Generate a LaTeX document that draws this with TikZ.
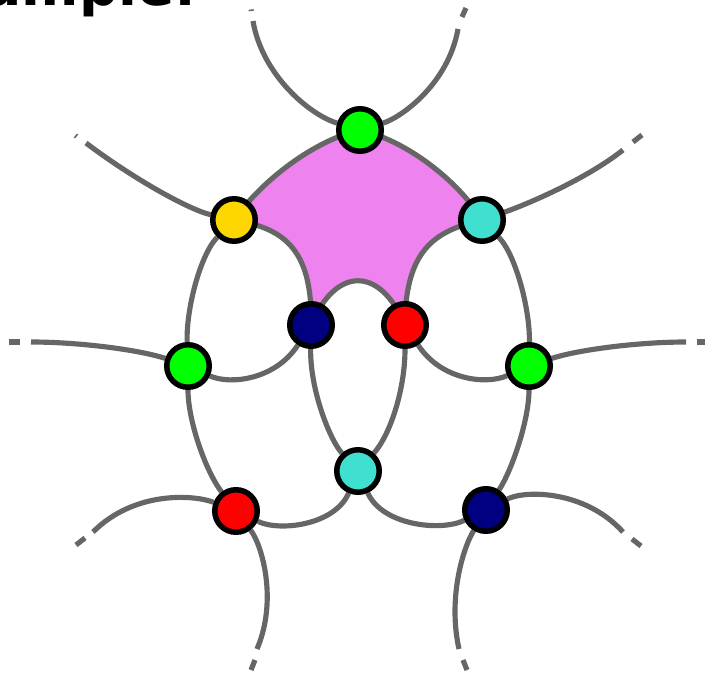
\documentclass[tikz,border=0pt]{standalone}
\usepackage{fontspec}
\setsansfont{DejaVu Sans}
\pgfdeclarelayer{background}
\pgfsetlayers{background,main}
\definecolor{edgecol}{RGB}{102,102,102}
\definecolor{pinkfill}{RGB}{238,130,238}
\definecolor{vgreen}{RGB}{0,255,0}
\definecolor{vgold}{RGB}{255,215,0}
\definecolor{vturq}{RGB}{64,224,208}
\definecolor{vnavy}{RGB}{0,0,128}
\definecolor{vred}{RGB}{255,0,0}
\tikzset{
  vtx/.style={circle, draw=black, line width=4.7pt, minimum size=1.275cm, inner sep=0pt},
  edge/.style={draw=edgecol, line width=4.4pt},
  tip/.style={draw=edgecol, line width=4.4pt, line cap=butt},
}
\begin{document}
\begin{tikzpicture}[x=0.03cm,y=-0.03cm]
\useasboundingbox (0,0) rectangle (705,677);
\node[anchor=base east, inner sep=0pt, font=\sffamily\bfseries\fontsize{47}{50}\selectfont] (title) at (197,6) {Example:};
% vertices
\node[vtx,fill=vgreen] (G1) at (360,130) {};
\node[vtx,fill=vgold]  (Y)  at (234,220) {};
\node[vtx,fill=vturq]  (C1) at (482,220) {};
\node[vtx,fill=vnavy]  (B1) at (311,325) {};
\node[vtx,fill=vred]   (R1) at (405,325) {};
\node[vtx,fill=vgreen] (G2) at (188,366) {};
\node[vtx,fill=vgreen] (G3) at (529,366) {};
\node[vtx,fill=vturq]  (C2) at (358,471) {};
\node[vtx,fill=vred]   (R2) at (236,511) {};
\node[vtx,fill=vnavy]  (B2) at (486,510) {};
% free ends
\coordinate (eTL) at (253,21);
\coordinate (eTR) at (458,29);
\coordinate (eYL) at (86,143);
\coordinate (eCR) at (623,150);
\coordinate (eGL) at (31,342);
\coordinate (eGR) at (686,342);
\coordinate (eRL) at (93,532);
\coordinate (eRD) at (257,649);
\coordinate (eBD) at (459,649);
\coordinate (eBR) at (623,532);
\coordinate (dTL1) at (251.3,11); \coordinate (dTL2) at (251.1,9.5);
\coordinate (dTR1) at (462,17);   \coordinate (dTR2) at (466,8);
\coordinate (dYL1) at (76.6,136.5); \coordinate (dYL2) at (75.4,135.5);
\coordinate (dCR1) at (633,142);  \coordinate (dCR2) at (642,135);
\coordinate (dGL1) at (20,342);   \coordinate (dGL2) at (9,342);
\coordinate (dGR1) at (697,342);  \coordinate (dGR2) at (708,342);
\coordinate (dRL1) at (85,538);   \coordinate (dRL2) at (76,545);
\coordinate (dRD1) at (255,660);  \coordinate (dRD2) at (251,670);
\coordinate (dBD1) at (463,660);  \coordinate (dBD2) at (467,670);
\coordinate (dBR1) at (632,539);  \coordinate (dBR2) at (641,546);
\begin{pgfonlayer}{background}
% pink face
\fill[pinkfill] (G1.center) .. controls (315,140) and (262,180) .. (Y.center)
  .. controls (280,228) and (313,245) .. (B1.center)
  .. controls (336,266) and (380,266) .. (R1.center)
  .. controls (405,245) and (440,230) .. (C1.center)
  .. controls (458,180) and (405,140) .. (G1.center) -- cycle;
% edges between vertices
\draw[edge] (G1.center) .. controls (315,140) and (262,180) .. (Y.center);
\draw[edge] (G1.center) .. controls (405,140) and (458,180) .. (C1.center);
\draw[edge] (Y.center) .. controls (280,228) and (313,245) .. (B1.center);
\draw[edge] (C1.center) .. controls (440,230) and (405,245) .. (R1.center);
\draw[edge] (B1.center) .. controls (336,266) and (380,266) .. (R1.center);
\draw[edge] (Y) .. controls (200,255) and (186,310) .. (G2);
\draw[edge] (C1) .. controls (516,255) and (530,310) .. (G3);
\draw[edge] (G2) .. controls (230,385) and (275,380) .. (B1);
\draw[edge] (R1) .. controls (441,380) and (486,385) .. (G3);
\draw[edge] (B1) .. controls (310,390) and (330,440) .. (C2);
\draw[edge] (R1) .. controls (405,390) and (390,435) .. (C2);
\draw[edge] (G2) .. controls (188,420) and (205,470) .. (R2);
\draw[edge] (G3) .. controls (529,420) and (512,470) .. (B2);
\draw[edge] (C2) .. controls (335,525) and (280,532) .. (R2);
\draw[edge] (C2) .. controls (382,525) and (440,532) .. (B2);
% dangling edges
\draw[edge] (G1) .. controls (310,115) and (262,75) .. (eTL);
\draw[edge] (G1) .. controls (400,118) and (448,85) .. (eTR);
\draw[edge] (Y) .. controls (190,210) and (135,180) .. (eYL);
\draw[edge] (C1) .. controls (525,205) and (585,180) .. (eCR);
\draw[edge] (G2) .. controls (140,350) and (80,342) .. (eGL);
\draw[edge] (G3) .. controls (577,350) and (637,342) .. (eGR);
\draw[edge] (R2) .. controls (195,495) and (135,490) .. (eRL);
\draw[edge] (R2) .. controls (262,545) and (278,600) .. (eRD);
\draw[edge] (B2) .. controls (462,550) and (448,600) .. (eBD);
\draw[edge] (B2) .. controls (525,490) and (585,490) .. (eBR);
% dash tips
\draw[tip] (dTL1) -- (dTL2);
\draw[tip] (dTR1) -- (dTR2);
\draw[tip] (dYL1) -- (dYL2);
\draw[tip] (dCR1) -- (dCR2);
\draw[tip] (dGL1) -- (dGL2);
\draw[tip] (dGR1) -- (dGR2);
\draw[tip] (dRL1) -- (dRL2);
\draw[tip] (dRD1) -- (dRD2);
\draw[tip] (dBD1) -- (dBD2);
\draw[tip] (dBR1) -- (dBR2);
\end{pgfonlayer}
\end{tikzpicture}
\end{document}
